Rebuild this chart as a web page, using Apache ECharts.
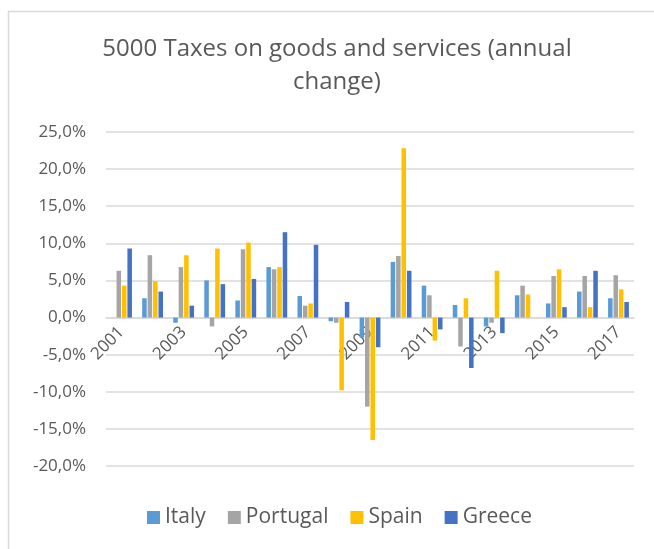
<!DOCTYPE html>
<html>
<head>
<meta charset="utf-8">
<script src="https://cdn.jsdelivr.net/npm/echarts@6/dist/echarts.min.js"></script>
<style>
  html, body { margin: 0; padding: 0; background: #ffffff; }
  #chart { width: 654px; height: 549px; }
</style>
</head>
<body>
<div id="chart"></div>
<script>
// Annual change in taxes on goods and services (%), 2001-2017
const years = ['2001','2002','2003','2004','2005','2006','2007','2008','2009',
               '2010','2011','2012','2013','2014','2015','2016','2017'];
const italy    = [null, 2.6, -0.7, 5.0, 2.3, 6.8, 2.9, -0.5, -2.7, 7.5, 4.3, 1.7, -1.2, 3.0, 1.9, 3.5, 2.6];
const portugal = [6.3, 8.4, 6.8, -1.2, 9.2, 6.5, 1.6, -0.7, -12.0, 8.3, 3.0, -3.9, -0.7, 4.3, 5.6, 5.6, 5.7];
const spain    = [4.3, 4.9, 8.4, 9.3, 10.1, 6.8, 1.9, -9.8, -16.5, 22.8, -3.1, 2.6, 6.3, 3.1, 6.5, 1.4, 3.8];
const greece   = [9.3, 3.5, 1.6, 4.5, 5.2, 11.5, 9.8, 2.1, -4.0, 6.3, -1.6, -6.8, -2.1, null, 1.4, 6.3, 2.1];
const yTicks = { min: -20, max: 25, step: 5 };

const seriesNames = ['Italy', 'Portugal', 'Spain', 'Greece'];
const seriesData = [italy, portugal, spain, greece];
const palette = ['#5B9BD5', '#A5A5A5', '#FFC000', '#4472C4'];

const font = '"Open Sans", "Noto Sans", sans-serif';
const textGray = '#595959';
const gridGray = '#d9d9d9';

// plot area geometry
const gridTop = 132, gridBottom = 83, chartH = 549;
const plotH = chartH - gridTop - gridBottom;
// distance from the bottom of the plot up to the zero line
const zeroOffset = plotH * (0 - yTicks.min) / (yTicks.max - yTicks.min);

const chart = echarts.init(document.getElementById('chart'), null, { renderer: 'canvas' });

chart.setOption({
  animation: false,
  color: palette,
  title: {
    text: '5000 Taxes on goods and services (annual\nchange)',
    left: 332,
    textAlign: 'center',
    top: 28,
    textStyle: {
      fontFamily: font,
      fontSize: 24,
      fontWeight: 'normal',
      color: textGray,
      lineHeight: 33
    }
  },
  graphic: [{
    type: 'rect',
    shape: { x: 8.5, y: 11.5, width: 700, height: 600 },
    style: { fill: 'none', stroke: gridGray, lineWidth: 1.5 },
    silent: true
  }],
  legend: {
    data: seriesNames,
    bottom: 16,
    left: 142,
    icon: 'rect',
    itemWidth: 13,
    itemHeight: 13,
    itemGap: 22,
    textStyle: { fontFamily: font, fontSize: 21, color: textGray }
  },
  grid: { left: 106, right: 20, top: gridTop, bottom: gridBottom },
  xAxis: {
    type: 'category',
    data: years,
    offset: -zeroOffset,
    axisLine: { onZero: false, lineStyle: { color: gridGray, width: 1.5 } },
    axisTick: { show: false },
    axisLabel: {
      interval: 1,
      rotate: 45,
      margin: 12,
      fontFamily: font,
      fontSize: 17,
      color: textGray
    }
  },
  yAxis: {
    type: 'value',
    min: yTicks.min,
    max: yTicks.max,
    interval: yTicks.step,
    axisLine: { show: false },
    axisTick: { show: false },
    splitLine: { lineStyle: { color: gridGray, width: 1.5 } },
    axisLabel: {
      margin: 20,
      fontFamily: font,
      fontSize: 17,
      color: textGray,
      formatter: v => v.toFixed(1).replace('.', ',') + '%'
    }
  },
  series: seriesNames.map((name, i) => ({
    name: name,
    type: 'bar',
    data: seriesData[i],
    barGap: '20%',
    barCategoryGap: '33%'
  }))
});
</script>
</body>
</html>
